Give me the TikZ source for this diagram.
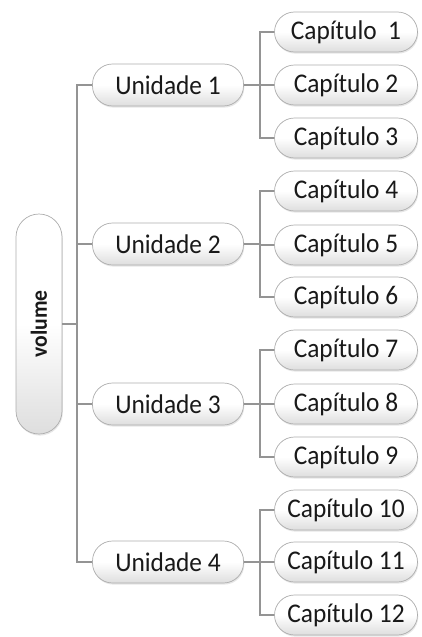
\documentclass[tikz,border=0pt]{standalone}
\usepackage{fontspec}
\setmainfont{Carlito}
\usetikzlibrary{shadows}
\newcommand{\sq}[1]{\scalebox{0.94}[1]{#1}}
\begin{document}
\begin{tikzpicture}[x=1pt,y=-1pt,
  pill/.style={draw=black!32, line width=0.7pt, rounded corners=20pt,
    top color=white, bottom color=black!13, middle color=white,
    drop shadow={opacity=0.2, shadow xshift=0.8pt, shadow yshift=-1.6pt},
    inner sep=0pt, text=black!90},
  unitbox/.style={pill, minimum width=151pt, minimum height=42pt,
    font=\fontsize{27}{30}\selectfont},
  chapbox/.style={pill, minimum width=143pt, minimum height=40pt,
    font=\fontsize{27}{30}\selectfont},
  volbox/.style={pill, rounded corners=23pt, minimum width=46pt, minimum height=220pt,
    font=\fontsize{23}{26}\selectfont\bfseries},
  link/.style={draw=black!42, line width=1.5pt}
]
\useasboundingbox (0,0) rectangle (422,637);

\node[volbox] (vol) at (39,324) {\rotatebox{90}{\sq{volume}}};

\node[unitbox] (u1) at (168,85) {\sq{Unidade 1}};
\node[unitbox] (u2) at (168,244) {\sq{Unidade 2}};
\node[unitbox] (u3) at (168,404) {\sq{Unidade 3}};
\node[unitbox] (u4) at (168,562) {\sq{Unidade 4}};

\node[chapbox] (c1) at (346,32) {\sq{Capítulo\ \ 1}};
\node[chapbox] (c2) at (346,85) {\sq{Capítulo 2}};
\node[chapbox] (c3) at (346,138) {\sq{Capítulo 3}};
\node[chapbox] (c4) at (346,191) {\sq{Capítulo 4}};
\node[chapbox] (c5) at (346,245) {\sq{Capítulo 5}};
\node[chapbox] (c6) at (346,297) {\sq{Capítulo 6}};
\node[chapbox] (c7) at (346,350) {\sq{Capítulo 7}};
\node[chapbox] (c8) at (346,404) {\sq{Capítulo 8}};
\node[chapbox] (c9) at (346,457) {\sq{Capítulo 9}};
\node[chapbox] (c10) at (346,510) {\sq{Capítulo 10}};
\node[chapbox] (c11) at (346,562) {\sq{Capítulo 11}};
\node[chapbox] (c12) at (346,615) {\sq{Capítulo 12}};

\coordinate (t) at (77,324);
\path[link] (vol.east) -- (t);
\path[link] (t) |- (u1.west);
\path[link] (t) |- (u2.west);
\path[link] (t) |- (u3.west);
\path[link] (t) |- (u4.west);

\path[link] (u1.east) -- ++(16,0) coordinate (b1);
\path[link] (b1) |- (c1.west);
\path[link] (b1) |- (c2.west);
\path[link] (b1) |- (c3.west);

\path[link] (u2.east) -- ++(16,0) coordinate (b2);
\path[link] (b2) |- (c4.west);
\path[link] (b2) |- (c5.west);
\path[link] (b2) |- (c6.west);

\path[link] (u3.east) -- ++(16,0) coordinate (b3);
\path[link] (b3) |- (c7.west);
\path[link] (b3) |- (c8.west);
\path[link] (b3) |- (c9.west);

\path[link] (u4.east) -- ++(16,0) coordinate (b4);
\path[link] (b4) |- (c10.west);
\path[link] (b4) |- (c11.west);
\path[link] (b4) |- (c12.west);
\end{tikzpicture}
\end{document}
